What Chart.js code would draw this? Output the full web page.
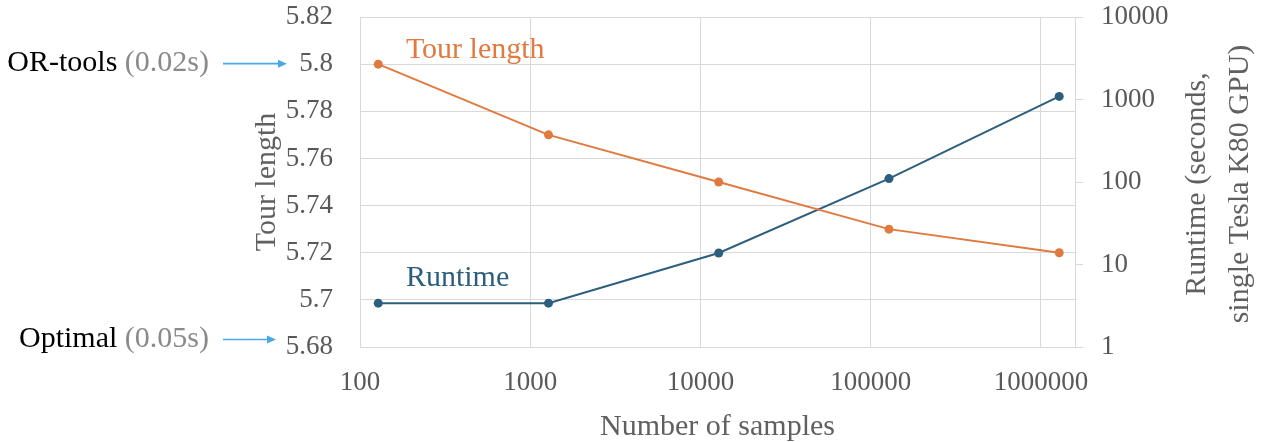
<!DOCTYPE html>
<html>
<head>
<meta charset="utf-8">
<script src="https://cdn.jsdelivr.net/npm/chart.js@4/dist/chart.umd.min.js"></script>
<style>
  html, body { margin: 0; padding: 0; background: #ffffff; }
  #wrap { width: 1261px; height: 442px; }
</style>
</head>
<body>
<div id="wrap"><canvas id="c" width="1261" height="442"></canvas></div>
<script>
// ---- Data ----
const samples = [128, 1280, 12800, 128000, 1280000];
const tourLength = [5.80, 5.77, 5.75, 5.73, 5.72];
const runtime = [3.4, 3.4, 13.8, 110, 1090];

const xTicks = [100, 1000, 10000, 100000, 1000000];
const tourTicks = [5.68, 5.70, 5.72, 5.74, 5.76, 5.78, 5.80, 5.82];
const runtimeTicks = [1, 10, 100, 1000, 10000];

const seriesNames = ['Tour length', 'Runtime'];
const refNames = ['OR-tools', 'Optimal'];
const refTimes = ['(0.02s)', '(0.05s)'];
const refValues = [5.80, 5.68];

const xTitle = 'Number of samples';
const yLeftTitle = 'Tour length';
const yRightTitle = ['Runtime (seconds,', 'single Tesla K80 GPU)'];

// ---- Style ----
const ORANGE = '#E07A3F';
const BLUE = '#2E5E7E';
const GRID = '#d9d9d9';
const TICK = '#595959';
const TITLE = '#606060';
const ARROW = '#4BA8E6';
const FONT = "'Liberation Serif', 'Times New Roman', serif";

Chart.defaults.font.family = FONT;

const annotations = {
  id: 'annotations',
  afterDraw(chart) {
    const ctx = chart.ctx;
    const yL = chart.scales.yL;
    const yR = chart.scales.yR;
    const x = chart.scales.x;
    ctx.save();
    ctx.font = '30px ' + FONT;
    ctx.textBaseline = 'middle';

    // series labels
    const lx = x.getPixelForValue(186);
    ctx.textAlign = 'left';
    ctx.fillStyle = ORANGE;
    ctx.fillText(seriesNames[0], lx, 50);
    ctx.fillStyle = BLUE;
    ctx.fillText(seriesNames[1], lx, 278);

    // reference annotations with arrows
    const offsets = [-1, -8];
    const arrowEnds = [287, 276];
    for (let i = 0; i < refNames.length; i++) {
      const y = yL.getPixelForValue(refValues[i]) + offsets[i];
      const right = 209;
      ctx.textAlign = 'right';
      ctx.fillStyle = '#8a8a8a';
      ctx.fillText(refTimes[i], right, y);
      const w = ctx.measureText(refTimes[i]).width;
      ctx.fillStyle = '#000000';
      ctx.fillText(refNames[i] + ' ', right - w, y);
      // arrow
      const x0 = 223, x1 = arrowEnds[i];
      ctx.strokeStyle = ARROW;
      ctx.fillStyle = ARROW;
      ctx.lineWidth = 1.6;
      ctx.beginPath();
      ctx.moveTo(x0, y + 0.5);
      ctx.lineTo(x1 - 7, y + 0.5);
      ctx.stroke();
      ctx.beginPath();
      ctx.moveTo(x1, y + 0.5);
      ctx.lineTo(x1 - 9, y - 3.5);
      ctx.lineTo(x1 - 9, y + 4.5);
      ctx.closePath();
      ctx.fill();
    }

    // right axis title (reads bottom to top)
    ctx.fillStyle = TITLE;
    ctx.textAlign = 'center';
    const cy = (yR.top + yR.bottom) / 2 + 2;
    const cxs = [yR.right - 64, yR.right - 21];
    for (let i = 0; i < yRightTitle.length; i++) {
      ctx.save();
      ctx.translate(cxs[i], cy);
      ctx.rotate(-Math.PI / 2);
      ctx.fillText(yRightTitle[i], 0, 0);
      ctx.restore();
    }
    ctx.restore();
  }
};

function fmt(v) { return String(parseFloat(Number(v).toFixed(2))); }

function fitV(w) {
  return s => { s.width = w; s.paddingTop = 0; s.paddingBottom = 0; };
}

new Chart(document.getElementById('c'), {
  type: 'line',
  data: {
    datasets: [
      {
        label: seriesNames[0],
        data: samples.map((s, i) => ({ x: s, y: tourLength[i] })),
        yAxisID: 'yL',
        borderColor: ORANGE,
        backgroundColor: ORANGE,
        pointBackgroundColor: ORANGE,
        pointBorderWidth: 0,
        pointRadius: 4.5,
        borderWidth: 2,
        tension: 0
      },
      {
        label: seriesNames[1],
        data: samples.map((s, i) => ({ x: s, y: runtime[i] })),
        yAxisID: 'yR',
        borderColor: BLUE,
        backgroundColor: BLUE,
        pointBackgroundColor: BLUE,
        pointBorderWidth: 0,
        pointRadius: 4.5,
        borderWidth: 2,
        tension: 0
      }
    ]
  },
  options: {
    responsive: false,
    devicePixelRatio: 1,
    animation: false,
    events: [],
    layout: { padding: { left: 245, top: 17, right: 0, bottom: 0 } },
    plugins: {
      legend: { display: false },
      tooltip: { enabled: false }
    },
    scales: {
      x: {
        type: 'logarithmic',
        position: 'bottom',
        min: xTicks[0],
        max: 1584893,
        afterBuildTicks: s => { s.ticks = xTicks.map(v => ({ value: v })); },
        afterFit: s => { s.height = 95; s.paddingLeft = 0; s.paddingRight = 0; },
        ticks: {
          callback: v => String(v),
          font: { size: 27 },
          color: TICK,
          padding: 20,
          autoSkip: false,
          maxRotation: 0
        },
        grid: { color: GRID, drawTicks: false, lineWidth: 1 },
        border: { color: GRID },
        title: {
          display: true, text: xTitle, color: TITLE,
          font: { size: 30, lineHeight: 1 }, padding: { top: 0, bottom: 0 }
        }
      },
      yL: {
        type: 'linear',
        position: 'left',
        min: tourTicks[0],
        max: tourTicks[tourTicks.length - 1],
        afterBuildTicks: s => { s.ticks = tourTicks.map(v => ({ value: v })); },
        afterFit: fitV(115),
        ticks: { callback: v => fmt(v), font: { size: 27 }, color: TICK, padding: 27 },
        grid: { color: GRID, drawTicks: false, lineWidth: 1 },
        border: { color: GRID },
        title: {
          display: true, text: yLeftTitle, color: TITLE,
          font: { size: 30, lineHeight: 1.2 }, padding: { top: 4, bottom: 4 }
        }
      },
      yR: {
        type: 'logarithmic',
        position: 'right',
        min: runtimeTicks[0],
        max: runtimeTicks[runtimeTicks.length - 1],
        afterBuildTicks: s => { s.ticks = runtimeTicks.map(v => ({ value: v })); },
        afterFit: fitV(186),
        ticks: { callback: v => String(v), font: { size: 27 }, color: TICK, padding: 18 },
        grid: { drawOnChartArea: false, drawTicks: true, tickLength: 8, color: GRID },
        border: { color: GRID }
      }
    }
  },
  plugins: [annotations]
});
</script>
</body>
</html>
